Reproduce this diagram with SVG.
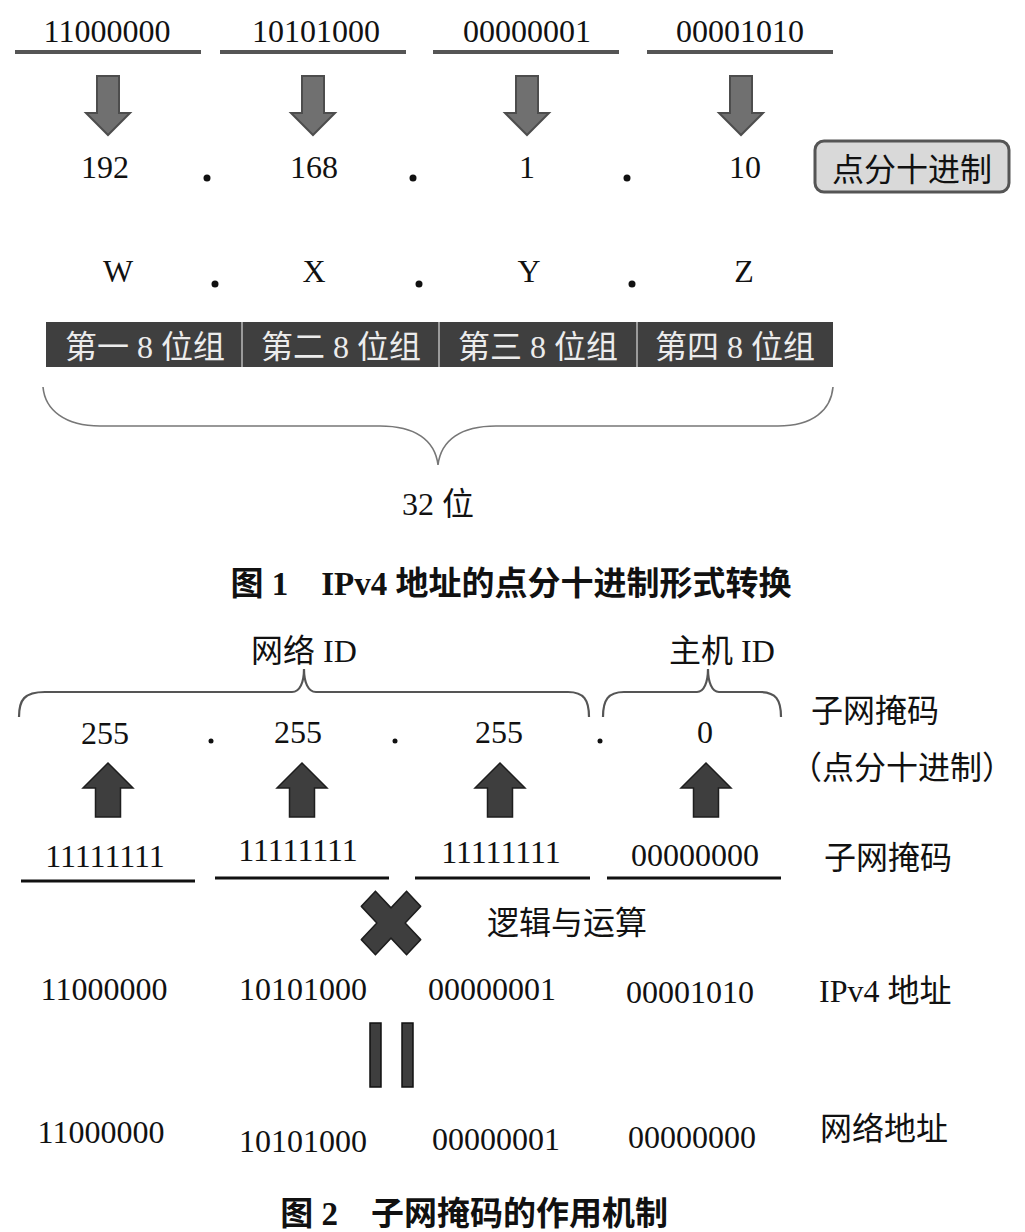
<svg xmlns="http://www.w3.org/2000/svg" width="1025" height="1232" viewBox="0 0 1025 1232">
<defs>
<style>
text{font-family:"Liberation Serif","Noto Sans CJK SC",serif;fill:#111;font-size:32px}
.c{text-anchor:middle}
.bar{fill:#ececec;font-size:32px}
.cap{font-weight:bold;font-size:33px}
.garrow{fill:#707070;stroke:#4d4d4d;stroke-width:2}
.darrow{fill:#3e3e3e;stroke:#1e1e1e;stroke-width:1.5}
.gline{stroke:#555;stroke-width:4}
.bline{stroke:#111;stroke-width:3}
.brace{fill:none;stroke:#777;stroke-width:1.6}
.brace2{fill:none;stroke:#555;stroke-width:2.2}
</style>
<path id="dn" d="M-11,0 H11 V37 H22 L0,59 L-22,37 H-11 Z"/>
<path id="up" d="M0,0 L25,25 H12.5 V54 H-12.5 V25 H-25 Z"/>
</defs>
<rect width="1025" height="1232" fill="#fff"/>

<g id="connectors">
<line class="gline" x1="15" y1="52" x2="201" y2="52"/>
<line class="gline" x1="220" y1="52" x2="406" y2="52"/>
<line class="gline" x1="433" y1="52" x2="619" y2="52"/>
<line class="gline" x1="647" y1="52" x2="833" y2="52"/>
<use href="#dn" class="garrow" x="108" y="76"/>
<use href="#dn" class="garrow" x="313" y="76"/>
<use href="#dn" class="garrow" x="527" y="76"/>
<use href="#dn" class="garrow" x="741" y="76"/>
<path class="brace" d="M43,387 C45,410 65,426 100,426 L380,426 C415,426 435,440 438,465 C441,440 461,426 496,426 L778,426 C813,426 831,410 833,387"/>

<path class="brace2" d="M19,717 C19,700 24,692 45,692 L292,692 C300,692 304,682 304,669 C304,682 308,692 316,692 L568,692 C584,692 589,700 589,717"/>
<path class="brace2" d="M603,717 C603,700 608,692 624,692 L697,692 C704,692 708,682 708,669 C708,682 712,692 719,692 L760,692 C776,692 781,700 781,717"/>
<use href="#up" class="darrow" x="108" y="763"/>
<use href="#up" class="darrow" x="302" y="763"/>
<use href="#up" class="darrow" x="500" y="763"/>
<use href="#up" class="darrow" x="706" y="763"/>
<line class="bline" x1="21" y1="881" x2="195" y2="881"/>
<line class="bline" x1="215" y1="878" x2="389" y2="878"/>
<line class="bline" x1="415" y1="878" x2="590" y2="878"/>
<line class="bline" x1="607" y1="878" x2="781" y2="878"/>
<g transform="translate(391,923) scale(1,1.07) rotate(45)">
<path d="M-10,-32 H10 V-10 H32 V10 H10 V32 H-10 V10 H-32 V-10 H-10 Z" fill="#3e3e3e" stroke="#1e1e1e" stroke-width="1.5" stroke-linejoin="round"/>
</g>
<rect x="370" y="1023" width="11" height="64" fill="#3e3e3e" stroke="#111" stroke-width="1.5"/>
<rect x="402" y="1023" width="11" height="64" fill="#3e3e3e" stroke="#111" stroke-width="1.5"/>
</g>

<g id="fig1-binary">
<text class="c" x="107" y="42">11000000</text>
<text class="c" x="316" y="42">10101000</text>
<text class="c" x="527" y="42">00000001</text>
<text class="c" x="740" y="42">00001010</text>
</g>
<g id="fig1-decimal">
<text class="c" x="105" y="178">192</text>
<text class="c" x="314" y="178">168</text>
<text class="c" x="527" y="178">1</text>
<text class="c" x="745" y="178">10</text>
<circle cx="207" cy="178" r="3.5" fill="#111"/>
<circle cx="413" cy="178" r="3.5" fill="#111"/>
<circle cx="627" cy="178" r="3.5" fill="#111"/>
</g>
<g id="dotted-decimal-label">
<rect x="815" y="141" width="194" height="51" rx="9" fill="#d9d9d9" stroke="#555" stroke-width="3"/>
<text class="c" x="912" y="181">点分十进制</text>
</g>
<g id="fig1-wxyz">
<text class="c" x="118" y="282">W</text>
<text class="c" x="314" y="282">X</text>
<text class="c" x="529" y="282">Y</text>
<text class="c" x="744" y="282">Z</text>
<circle cx="215" cy="284" r="3.5" fill="#111"/>
<circle cx="419" cy="284" r="3.5" fill="#111"/>
<circle cx="632" cy="284" r="3.5" fill="#111"/>
</g>
<g id="octet-bar">
<rect x="46" y="322" width="787" height="45" fill="#3f3f3f"/>
<line x1="242" y1="322" x2="242" y2="367" stroke="#bbb" stroke-width="1.5"/>
<line x1="439" y1="322" x2="439" y2="367" stroke="#bbb" stroke-width="1.5"/>
<line x1="637" y1="322" x2="637" y2="367" stroke="#bbb" stroke-width="1.5"/>
<text class="c bar" x="145" y="358">第一 8 位组</text>
<text class="c bar" x="341" y="358">第二 8 位组</text>
<text class="c bar" x="538" y="358">第三 8 位组</text>
<text class="c bar" x="735" y="358">第四 8 位组</text>
</g>
<g id="bits32">
<text class="c" x="438" y="515">32 位</text>
</g>
<g id="caption1">
<text class="c cap" x="511" y="595">图 1　IPv4 地址的点分十进制形式转换</text>
</g>

<g id="fig2-labels">
<text class="c" x="304" y="662">网络 ID</text>
<text class="c" x="722" y="662">主机 ID</text>
<text x="811" y="722">子网掩码</text>
<text x="790" y="779" font-size="33">（点分十进制）</text>
</g>
<g id="fig2-mask-decimal">
<text class="c" x="105" y="744">255</text>
<text class="c" x="298" y="743">255</text>
<text class="c" x="499" y="743">255</text>
<text class="c" x="705" y="743">0</text>
<circle cx="211" cy="741" r="2.5" fill="#111"/>
<circle cx="395" cy="741" r="2.5" fill="#111"/>
<circle cx="600" cy="741" r="2.5" fill="#111"/>
</g>
<g id="fig2-mask-binary">
<text class="c" x="105" y="867">11111111</text>
<text class="c" x="298" y="861">11111111</text>
<text class="c" x="501" y="863">11111111</text>
<text class="c" x="695" y="866">00000000</text>
<text x="824" y="869">子网掩码</text>
</g>
<g id="and-op">
<text x="487" y="934">逻辑与运算</text>
</g>
<g id="fig2-ipv4">
<text class="c" x="104" y="1000">11000000</text>
<text class="c" x="303" y="1000">10101000</text>
<text class="c" x="492" y="1000">00000001</text>
<text class="c" x="690" y="1003">00001010</text>
<text x="819" y="1002">IPv4 地址</text>
</g>
<g id="fig2-network">
<text class="c" x="101" y="1143">11000000</text>
<text class="c" x="303" y="1152">10101000</text>
<text class="c" x="496" y="1150">00000001</text>
<text class="c" x="692" y="1148">00000000</text>
<text x="820" y="1140">网络地址</text>
</g>
<g id="caption2">
<text class="c cap" x="474" y="1225">图 2　子网掩码的作用机制</text>
</g>
</svg>
